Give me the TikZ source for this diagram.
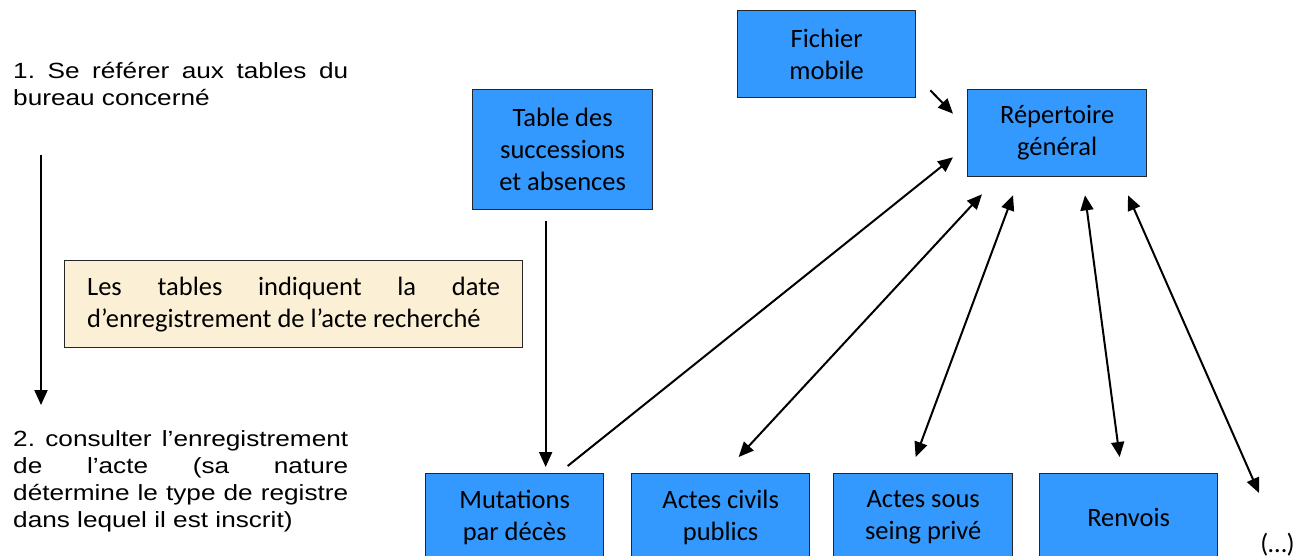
\documentclass[tikz,border=0pt]{standalone}
\usepackage{fontspec}
\setmainfont{Carlito}
\newfontfamily\arialx[FakeStretch=1.19]{Liberation Sans}
\usetikzlibrary{arrows.meta,calc}
\definecolor{boxblue}{RGB}{51,153,255}
\definecolor{notetan}{RGB}{251,240,213}
\newcommand\jline[2]{\makebox[#1][s]{\spaceskip=0pt\xspaceskip=0pt\frenchspacing #2}}
\begin{document}
\begin{tikzpicture}[x=1pt,y=-1pt,
  blk/.style={draw=black!85,line width=1.3pt,fill=boxblue,minimum width=178pt,
    minimum height=87pt,inner sep=0pt,align=center,anchor=north west,
    font=\fontsize{26.5}{32}\selectfont},
  conn/.style={line width=2pt,-{Triangle[length=15pt,width=13pt]}},
  biconn/.style={line width=2pt,{Triangle[length=15pt,width=13pt]}-{Triangle[length=15pt,width=13pt]}},
  para/.style={inner sep=0pt,text width=335pt,align=left,anchor=base west,
    font=\arialx\fontsize{22}{27}\selectfont}]
\useasboundingbox (0,0) rectangle (1308,555);

% left text
\node[para] (p1) at (13,78) {\spaceskip=0pt\xspaceskip=0pt\frenchspacing
  \jline{335pt}{1. Se référer aux tables du}\\bureau concerné};
\node[para] (p2) at (13,446) {\spaceskip=0pt\xspaceskip=0pt\frenchspacing
  \jline{335pt}{2. consulter l’enregistrement}\\
  \jline{335pt}{de l’acte (sa nature}\\
  \jline{335pt}{détermine le type de registre}\\
  dans lequel il est inscrit)};
\coordinate (a1) at (41,155);
\coordinate (a2) at (41,405);
\draw[conn] (a1) -- (a2);

% note
\node[draw=black!85,line width=1.3pt,fill=notetan,minimum width=458pt,minimum height=87pt,
  inner sep=0pt,anchor=north west,text width=413pt,align=left,
  font=\fontsize{26.5}{32}\selectfont] (note) at (64,260)
  {\spaceskip=0pt\xspaceskip=0pt\frenchspacing
   \jline{413pt}{Les tables indiquent la date}\\d’enregistrement de l’acte recherché};

% blue boxes
\node[blk] (fich) at (737,10) {Fichier\\mobile};
\node[blk,minimum width=180pt,minimum height=120pt] (tab) at (472,89) {Table des\\successions\\et absences};
\node[blk,minimum width=179pt] (rep) at (967,89) {Répertoire\\général};
\node[blk] (mut) at (425,473) {Mutations\\par décès};
\node[blk] (civ) at (631,473) {Actes civils\\publics};
\node[blk,minimum width=179pt] (ssp) at (833,473) {Actes sous\\seing privé};
\node[blk] (ren) at (1039,473) {Renvois};
\node[inner sep=0pt,anchor=base,font=\fontsize{26.5}{32}\selectfont] (dots) at (1277.5,552) {(…)};

% connectors
\draw[conn] ($(fich.south east)+(14,-8)$) -- ($(rep.west)+(-14,-19.5)$);
\draw[conn] ($(tab.south)+(-17,11)$) -- ($(mut.north)+(31,-6)$);
\draw[conn] ($(mut.north)+(53,-7)$) -- ($(rep.south west)+(-14,-20)$);
\draw[biconn] ($(civ.north)+(18,-16)$) -- ($(rep.south west)+(15,17)$);
\draw[biconn] ($(ssp.north)+(-7.5,-16)$) -- ($(rep.south west)+(46,18)$);
\draw[biconn] ($(ren.north)+(-9,-16)$) -- ($(rep.south west)+(118,18)$);
\draw[biconn] ($(dots.base)+(-18.5,-59)$) -- ($(rep.south west)+(161,18)$);
\end{tikzpicture}
\end{document}
